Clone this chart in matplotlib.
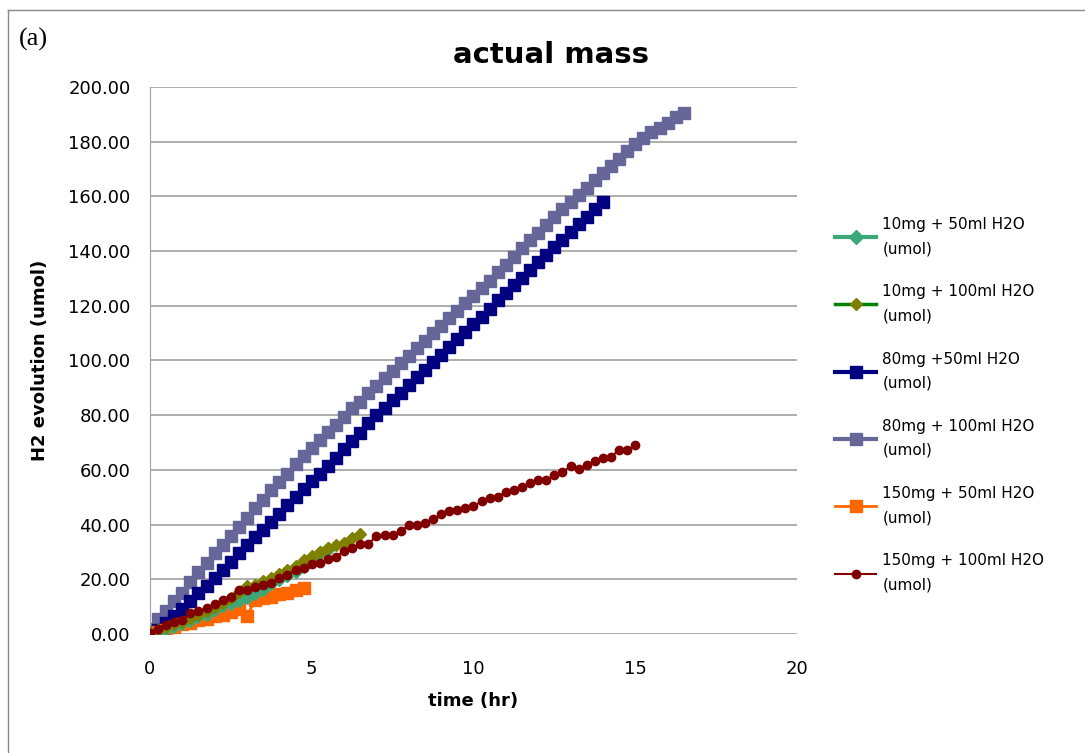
import matplotlib
matplotlib.use("Agg")
import matplotlib.pyplot as plt
import numpy as np
from matplotlib.lines import Line2D

# data (hr, umol), readings every 0.25 hr
t_10_50 = np.arange(23) * 0.25
h_10_50 = [0, 1, 2, 3, 4, 5, 6.5, 7.5, 9, 10.5, 11.5, 12.5, 13.5, 15, 16.5, 18.5,
           20, 21.5, 23, 25, 27.5, 29.5, 31]

t_10_100 = np.arange(27) * 0.25
h_10_100 = [0.5, 1.5, 2.5, 3.5, 4.5, 6, 7, 8.5, 10, 11.5, 13, 15.5, 17.5, 18, 19.5,
            20.5, 22, 23.5, 25, 27, 28.5, 30, 31.5, 32.6, 33.3, 35.1, 36.7]

t_80_50 = np.arange(57) * 0.25
h_80_50 = [0, 1.5, 4, 6.5, 9, 12, 15, 17.5, 20.5, 23.5, 26.5, 29.5, 32.5, 35.5, 38,
           41, 44, 47, 50, 53, 56, 58.5, 61.5, 64.5, 67.5, 70.5, 73.5, 77, 80,
           82.5, 85.5, 88, 91, 94, 96.5, 99.5, 102, 105, 108, 110.5, 113.5, 116,
           119, 122, 124.5, 127.5, 130, 133, 136, 138.5, 141.5, 144, 147, 150,
           152.5, 155.5, 158]

t_80_100 = np.arange(67) * 0.25
h_80_100 = [2, 5.5, 8.5, 12, 15, 19, 22.5, 26, 29.5, 32.5, 36, 39, 42.5, 46, 49,
            52.5, 55.5, 58.5, 62, 65, 68, 71, 74, 76.5, 79.5, 82.5, 85, 88, 90.5,
            93.5, 96, 99, 101.5, 104.5, 107, 110, 112.5, 115.5, 118, 121, 123.5,
            126.5, 129, 132.5, 135, 138, 141, 144, 146.5, 149.5, 152.5, 155.5,
            158, 160.5, 163, 166, 168.5, 171, 173.5, 176.5, 179, 181.5, 183.5,
            185, 187, 189, 190.5]

t_150_50 = np.arange(20) * 0.25
h_150_50 = [0, 0.8, 1.5, 2.5, 3.5, 4, 5, 5.5, 6.5, 7, 8, 9, 6.5, 12.5, 13, 13.5,
            14.5, 15, 16, 16.8]

t_150_100 = np.arange(61) * 0.25
h_150_100 = [0.3, 2, 3.3, 4.5, 5.1, 7.6, 8.3, 9.5, 10.8, 12.6, 13.5, 16, 16.1, 17.3,
             17.9, 18.6, 20.4, 21.6, 23.4, 24, 25.5, 26, 27.4, 28, 30.5, 31.5, 33,
             33, 35.7, 36.3, 36.3, 37.5, 39.8, 39.8, 40.5, 41.9, 43.7, 44.9, 45.5,
             46.1, 46.7, 48.5, 49.6, 50.2, 52, 52.6, 53.8, 55.2, 56.2, 56.2, 58,
             59.2, 61.3, 60.4, 61.9, 63.1, 64.3, 64.8, 67.3, 67.1, 69]

plt.rcParams['font.family'] = ['DejaVu Sans']

fig = plt.figure(figsize=(10.85, 7.53), dpi=100)
ax = fig.add_axes([0.1382, 0.158, 0.5964, 0.7265])

ax.plot(t_80_100, h_80_100, '-s', color='#666699', lw=3, ms=9, label='80mg + 100ml H2O\n(umol)', zorder=2)
ax.plot(t_80_50, h_80_50, '-s', color='#000080', lw=3, ms=9, label='80mg +50ml H2O\n(umol)', zorder=3)
ax.plot(t_150_50, h_150_50, '-s', color='#FF6600', lw=2, ms=9, label='150mg + 50ml H2O\n(umol)', zorder=4)
ax.plot(t_10_50, h_10_50, '-D', color='#3CA878', lw=3, ms=7, label='10mg + 50ml H2O\n(umol)', zorder=5)
ax.plot(t_10_100, h_10_100, '-D', color='#008000', mfc='#808000', mec='#808000', lw=2.5, ms=6,
        label='10mg + 100ml H2O\n(umol)', zorder=6)
ax.plot(t_150_100, h_150_100, '-o', color='#800000', lw=1.5, ms=6, label='150mg + 100ml H2O\n(umol)', zorder=7)

ax.set_xlim(0, 20)
ax.set_ylim(0, 200)
ax.set_xticks(range(0, 21, 5))
ax.set_yticks(range(0, 201, 20))
ax.set_yticklabels([f'{v:.2f}' for v in range(0, 201, 20)])
ax.tick_params(length=0, labelsize=13, pad=14)
ax.tick_params(axis='x', pad=19)
ax.grid(axis='y', color='#A0A0A0', lw=1.2)
ax.set_axisbelow(True)
for s in ['top', 'right', 'bottom']:
    ax.spines[s].set_visible(False)
ax.spines['left'].set_color('#A0A0A0')

fig.text(0.508, 0.927, 'actual mass', fontsize=21, fontweight='bold', ha='center', va='center')
ax.set_xlabel('time (hr)', fontsize=13, fontweight='bold', labelpad=10)
ax.set_ylabel('H2 evolution (umol)', fontsize=13, fontweight='bold', labelpad=14)

h, l = ax.get_legend_handles_labels()
order = [3, 4, 1, 0, 2, 5]
leg = fig.legend([h[i] for i in order], [l[i] for i in order], loc='upper left',
                 bbox_to_anchor=(0.757, 0.73), frameon=False, fontsize=11,
                 handlelength=2.7, labelspacing=1.85, handletextpad=0.4)
for txt in leg.get_texts():
    txt.set_linespacing(1.75)

fig.text(0.017, 0.947, '(a)', fontsize=19, family='Liberation Serif', va='center')

# outer border
fig.add_artist(Line2D([8 / 1085, 8 / 1085], [0, 1 - 10 / 753], color='#888888', lw=1))
fig.add_artist(Line2D([8 / 1085, 1], [1 - 10 / 753, 1 - 10 / 753], color='#888888', lw=1))

fig.savefig('out.png', dpi=100)
